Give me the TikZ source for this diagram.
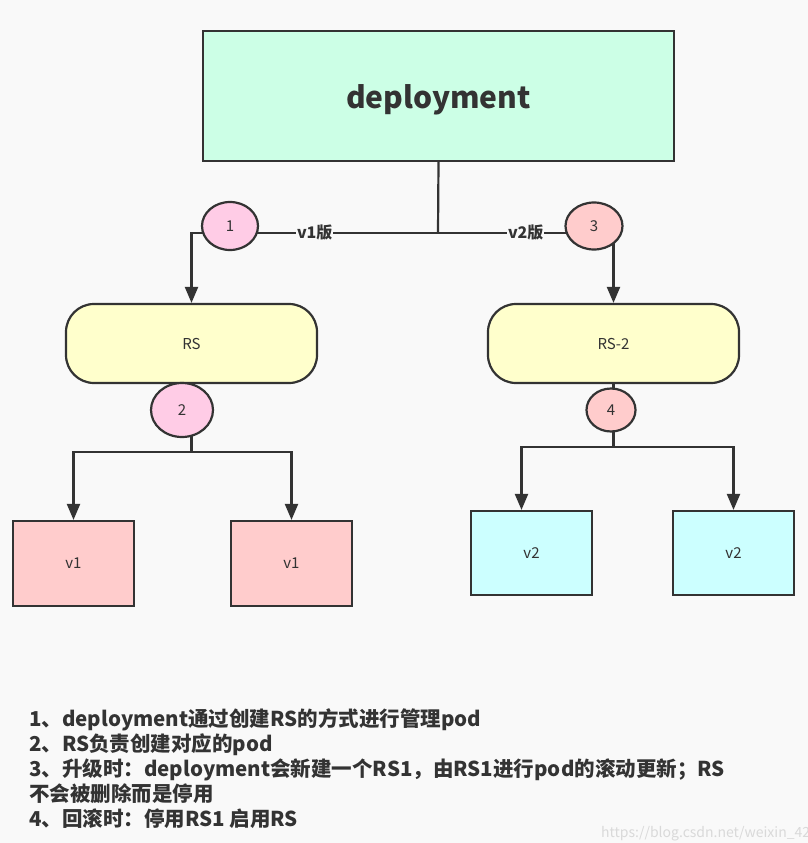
\documentclass[tikz,border=0pt]{standalone}
\usepackage{fontspec}
\setmainfont{Noto Sans CJK SC}
\usepackage{tikz}
\usetikzlibrary{shapes.geometric, arrows.meta, positioning, calc}

\definecolor{ink}{HTML}{333333}
\definecolor{paper}{HTML}{F9F9F9}
\definecolor{mint}{HTML}{CCFFE6}
\definecolor{cream}{HTML}{FFFFCC}
\definecolor{rose}{HTML}{FFCCE6}
\definecolor{salmon}{HTML}{FFCCCC}
\definecolor{aqua}{HTML}{CCFFFF}

\begin{document}
\begin{tikzpicture}[
  x=1pt, y=-1pt,
  deploybox/.style={rectangle, draw=ink, line width=2.2pt, fill=mint, minimum width=471pt, minimum height=130pt, text height=30pt, text depth=6pt, font=\fontsize{30}{36}\selectfont\bfseries, text=ink},
  rsbox/.style={rectangle, rounded corners=28pt, draw=ink, line width=2.2pt, fill=cream, minimum width=251pt, minimum height=79pt, font=\fontsize{15}{18}\selectfont, text=ink},
  podbox/.style={rectangle, draw=ink, line width=2.2pt, minimum width=121pt, minimum height=85pt, font=\fontsize{15}{18}\selectfont, text=ink},
  badge/.style={ellipse, draw=ink, line width=2.2pt, inner sep=0pt, font=\fontsize{15}{18}\selectfont, text=ink},
  wire/.style={draw=ink, line width=2.2pt},
  arr/.style={wire, -{Triangle[length=16pt, width=13pt]}},
  lbl/.style={font=\fontsize{16}{18}\selectfont\bfseries, text=ink, fill=paper, inner sep=1pt},
]
\fill[paper] (0,0) rectangle (808,843);
\clip (0,0) rectangle (808,843);

\node[deploybox] (deploy) at (438.5,96) {deployment};
\node[rsbox] (rs1) at (191.5,343.5) {RS};
\node[rsbox] (rs2) at (613.5,343.5) {RS-2};

\node[podbox, fill=salmon] (p1) at (73.5,563.5)  {v1};
\node[podbox, fill=salmon] (p2) at (291.5,563.5) {v1};
\node[podbox, fill=aqua, minimum height=84pt] (q1) at (531.5,553) {v2};
\node[podbox, fill=aqua, minimum height=84pt] (q2) at (733.5,553) {v2};

\coordinate (fork) at (438,233);
\coordinate (split1) at (191.5,452);
\coordinate (split2) at (613.5,447);

\draw[wire] (deploy.south) -- (fork);
\draw[arr] (fork) -- node[lbl]{v1版} (fork -| rs1.north) -- (rs1.north);
\draw[arr] (fork) -- node[lbl]{v2版} (fork -| rs2.north) -- (rs2.north);

\draw[wire] (rs1.south) -- (split1);
\draw[arr] (split1) -| (p1.north);
\draw[arr] (split1) -| (p2.north);
\draw[wire] (rs2.south) -- (split2);
\draw[arr] (split2) -| ([xshift=-10pt]q1.north);
\draw[arr] (split2) -| (q2.north);

% numbered badges sit on top of the lines
\node[badge, fill=rose, minimum width=56pt, minimum height=48pt] (b1) at (230,226) {1};
\node[badge, fill=rose, minimum width=62pt, minimum height=54pt] (b2) at (182,410) {2};
\node[badge, fill=salmon, minimum width=57pt, minimum height=47pt] (b3) at (594,226) {3};
\node[badge, fill=salmon, minimum width=49pt, minimum height=43pt] (b4) at (611,410) {4};

\node[anchor=north west, align=left, inner sep=0pt, text=ink, font=\fontsize{20.5}{25}\selectfont\bfseries] (notes) at (29,708) {%
1、deployment通过创建RS的方式进行管理pod\\
2、RS负责创建对应的pod\\
3、升级时：deployment会新建一个RS1，由RS1进行pod的滚动更新；RS\\
不会被删除而是停用\\
4、回滚时：停用RS1 启用RS};

\node[anchor=base west, inner sep=0pt, text=black!15, font=\fontsize{14}{16}\selectfont] (mark) at (601,837) {https://blog.csdn.net/weixin\_42506595};
\end{tikzpicture}
\end{document}
